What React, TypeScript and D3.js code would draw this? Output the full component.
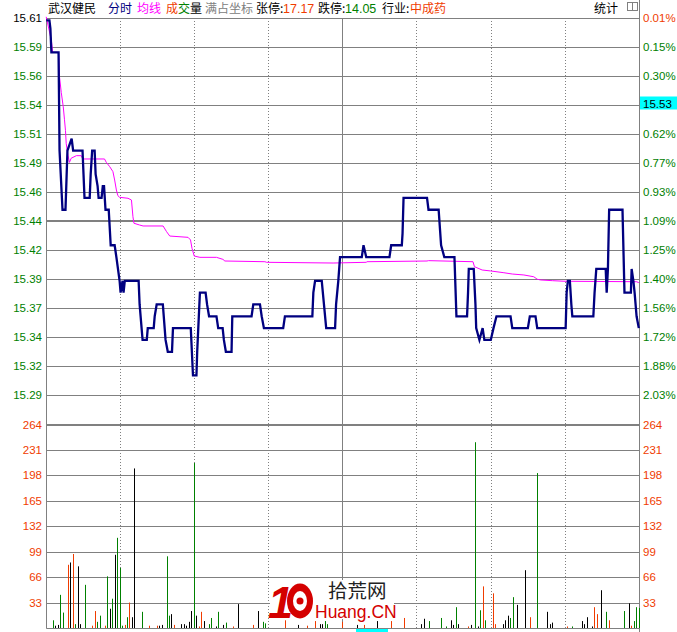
import React from "react";
import * as d3 from "d3";

// ---------- data ----------
// price line: [minute since 9:30, price]
const pricePoints: [number, number][] = [
  [0, 15.61], [1.3, 15.61], [1.7, 15.603], [2.1, 15.583], [5.0, 15.583], [5.4, 15.5],
  [6.6, 15.45], [7.8, 15.45], [8.6, 15.5], [10.3, 15.51], [10.9, 15.5], [14.7, 15.5],
  [15.1, 15.48], [15.5, 15.46], [17.6, 15.46], [18.0, 15.48], [18.6, 15.5], [19.6, 15.5],
  [20.0, 15.48], [20.8, 15.47], [21.2, 15.46], [22.4, 15.46], [22.9, 15.47], [23.4, 15.47],
  [24.0, 15.45], [25.3, 15.45], [26.1, 15.42], [27.7, 15.42], [28.4, 15.41], [29.7, 15.39],
  [30.1, 15.38], [30.9, 15.39], [31.3, 15.38], [31.8, 15.39], [37.4, 15.39], [37.8, 15.37],
  [39.0, 15.34], [40.7, 15.34], [41.1, 15.35], [43.5, 15.35], [43.9, 15.36], [44.7, 15.37],
  [47.2, 15.37], [48.3, 15.34], [49.2, 15.33], [50.9, 15.33], [51.3, 15.35], [58.5, 15.35],
  [59.4, 15.31], [60.8, 15.31], [61.1, 15.33], [62.2, 15.38], [64.5, 15.38], [65.1, 15.37],
  [65.9, 15.36], [68.9, 15.36], [69.6, 15.35], [71.4, 15.35], [71.9, 15.34], [72.7, 15.33],
  [75.0, 15.33], [75.3, 15.36], [83.1, 15.36], [83.8, 15.37], [86.5, 15.37], [87.2, 15.36],
  [88.1, 15.35], [95.9, 15.35], [96.6, 15.36], [107.7, 15.36], [108.1, 15.38], [108.8, 15.39],
  [111.5, 15.39], [113.3, 15.35], [116.9, 15.35], [117.3, 15.37], [118.2, 15.39], [118.9, 15.41],
  [127.7, 15.41], [128.4, 15.42], [129.5, 15.41], [138.9, 15.41], [139.6, 15.42], [143.9, 15.42],
  [144.2, 15.43], [144.6, 15.46], [154.1, 15.46], [154.7, 15.45], [158.8, 15.45], [159.8, 15.42],
  [161.1, 15.41], [165.2, 15.41], [166.0, 15.36], [170.3, 15.36], [170.7, 15.38], [171.0, 15.4],
  [173.0, 15.4], [173.7, 15.37], [174.0, 15.35], [175.3, 15.34], [176.6, 15.35], [177.3, 15.34],
  [179.9, 15.34], [181.0, 15.35], [182.2, 15.36], [187.9, 15.36], [188.6, 15.35], [194.9, 15.35],
  [195.7, 15.36], [198.0, 15.36], [198.7, 15.35], [210.2, 15.35], [210.6, 15.38], [211.1, 15.39],
  [211.9, 15.39], [212.5, 15.37], [212.9, 15.36], [221.4, 15.36], [221.9, 15.38], [222.6, 15.4],
  [226.4, 15.4], [226.8, 15.38], [227.3, 15.4], [227.8, 15.45], [233.2, 15.45], [234.0, 15.38],
  [236.6, 15.38], [236.9, 15.4], [237.6, 15.39], [238.1, 15.38], [238.9, 15.36], [239.8, 15.35],
];

// average price line: [minute, price]
const avgPoints: [number, number][] = [
  [0, 15.613], [2.1, 15.593], [2.6, 15.583], [5.0, 15.583], [5.4, 15.562], [6.1, 15.549],
  [6.9, 15.537], [7.4, 15.526], [7.8, 15.517], [8.1, 15.506], [8.8, 15.496], [9.4, 15.49],
  [10.1, 15.4935], [12.2, 15.4957], [14.2, 15.4957], [14.8, 15.4929], [23.6, 15.4929],
  [24.3, 15.4901], [25.7, 15.4864], [27.0, 15.4822], [27.7, 15.4751], [28.4, 15.4667],
  [29.0, 15.4619], [29.7, 15.4605], [33.1, 15.4597], [34.5, 15.4582], [35.1, 15.4441],
  [35.5, 15.4386], [37.8, 15.4371], [39.2, 15.4363], [47.3, 15.4363], [48.7, 15.4315],
  [50.0, 15.4278], [57.4, 15.4267], [58.4, 15.4245], [59.0, 15.4174], [59.9, 15.4109],
  [62.2, 15.4098], [68.9, 15.4098], [71.5, 15.4081], [72.3, 15.4067], [88.5, 15.4061],
  [89.2, 15.4056], [116.1, 15.405], [129.5, 15.4056], [129.8, 15.4061], [154.1, 15.4067],
  [154.7, 15.407], [172.7, 15.4061], [173.3, 15.4019], [176.4, 15.3991], [179.8, 15.3983],
  [185.2, 15.3968], [188.6, 15.3957], [193.3, 15.3949], [197.3, 15.3934], [198.7, 15.3913],
  [200.0, 15.3907], [204.8, 15.3901], [209.5, 15.3896], [238.9, 15.3892], [239.8, 15.3884],
];

// volume bars: [minute index, volume, direction (1 up/red, -1 down/green, 0 flat/black)]
const volumeBars: [number, number, number][] = [
  [2, 10, -1], [3, 3, 0], [4, 4, 0], [5, 43, -1], [6, 20, -1], [8, 82, 1], [9, 85, 0],
  [10, 96, 1], [11, 5, -1], [12, 80, 0], [13, 5, 0], [15, 56, -1], [18, 3, 1], [19, 22, 1],
  [20, 8, -1], [21, 16, -1], [23, 3, 1], [24, 67, -1], [25, 25, 0], [26, 38, -1], [27, 95, 0],
  [28, 117, -1], [29, 78, -1], [30, 3, -1], [31, 4, 1], [32, 14, -1], [33, 33, 1], [34, 14, 0],
  [35, 207, 0], [38, 21, -1], [41, 3, 1], [44, 3, 1], [45, 3, 0], [46, 4, 0], [48, 93, -1],
  [49, 16, -1], [50, 18, 0], [51, 4, 1], [54, 5, 0], [55, 5, 0], [56, 3, 0], [57, 8, 0],
  [58, 22, 0], [59, 214, -1], [60, 16, 0], [61, 2, 1], [62, 21, 1], [63, 9, 0], [65, 5, -1],
  [66, 13, -1], [68, 2, 0], [69, 21, -1], [71, 4, 0], [72, 7, -1], [75, 2, 1], [77, 31, 0],
  [83, 4, 1], [85, 22, 0], [87, 8, -1], [88, 6, -1], [96, 10, 1], [101, 4, 0], [105, 3, 1],
  [108, 9, 1], [110, 5, 0], [111, 5, 0], [112, 9, -1], [113, 5, -1], [119, 8, 1], [125, 4, 0],
  [128, 4, 1], [133, 9, 0], [139, 9, 1], [144, 13, 1], [151, 5, 0], [152, 12, 0], [154, 9, -1],
  [159, 13, -1], [161, 2, -1], [163, 10, 0], [164, 4, 0], [165, 27, -1], [166, 5, 0],
  [170, 2, 1], [171, 4, 0], [173, 241, -1], [174, 2, 0], [175, 23, -1], [176, 54, 1],
  [177, 10, -1], [180, 45, 1], [181, 5, 1], [184, 5, 0], [185, 10, 0], [186, 16, 0],
  [187, 13, -1], [188, 40, -1], [190, 30, 0], [193, 75, 0], [195, 14, 1], [198, 201, -1],
  [202, 21, 0], [203, 5, 0], [204, 7, 0], [210, 2, 1], [212, 2, -1], [216, 9, 0], [217, 5, 0],
  [218, 14, 0], [220, 2, 0], [221, 27, 1], [222, 18, 1], [224, 49, 0], [226, 21, -1],
  [227, 10, 1], [233, 22, -1], [235, 32, 0], [236, 3, 1], [237, 9, -1], [238, 27, -1],
  [239, 26, -1],
];

const priceLabels = ["15.61", "15.59", "15.56", "15.54", "15.51", "15.49", "15.46", "15.44", "15.42", "15.39", "15.37", "15.34", "15.32", "15.29"];
// the 4th percent label is covered by the current-price tag in the picture
const pctLabels = ["0.01%", "0.15%", "0.30%", null, "0.62%", "0.77%", "0.93%", "1.09%", "1.25%", "1.40%", "1.56%", "1.72%", "1.88%", "2.03%"];
const volLabels = [264, 231, 198, 165, 132, 99, 66, 33];
const timeTicks = [0, 30, 60, 90, 120, 150, 180, 210, 240];
const PRICE_TOP = 15.612;
const PRICE_STEP = 0.0245;
const VOL_MAX = 264;
const CURRENT_PRICE = "15.53";

// ---------- styling ----------
const RED = "#f03c00";
const GREEN = "#008000";
const NAVY = "#000080";
const MAGENTA = "#ff00ff";
const GRID = "#808080";
const FONT = "'Liberation Sans', Arial, 'Noto Sans CJK SC', sans-serif";
const CJK = "'Noto Sans CJK SC', 'Liberation Sans', sans-serif";

const W = 677;
const H = 632;
const LEFT = 46.2;
const RIGHT = 639.3;
const TOP = 18;
const PRICE_BOTTOM = 395;
const VOL_TOP = 424.5;
const VOL_BOTTOM = 628;

export default function App() {
  const x = d3.scaleLinear().domain([0, 240]).range([LEFT, RIGHT]);
  const yPrice = d3
    .scaleLinear()
    .domain([PRICE_TOP, PRICE_TOP - 13 * PRICE_STEP])
    .range([TOP, PRICE_BOTTOM]);
  const yVol = d3.scaleLinear().domain([0, VOL_MAX]).range([VOL_BOTTOM, VOL_TOP]);

  const line = d3
    .line<[number, number]>()
    .x((d) => x(d[0]))
    .y((d) => yPrice(d[1]));

  const crisp = (v: number) => Math.round(v) + 0.5;
  const gridYs = priceLabels.map((_, i) => yPrice(PRICE_TOP - i * PRICE_STEP));
  const barColor = (d: number) => (d > 0 ? RED : d < 0 ? GREEN : "#000");

  return (
    <svg
      width={W}
      height={H}
      style={{ position: "absolute", left: 0, top: 0, background: "#fff", display: "block" }}
    >
      <rect x={0} y={0} width={W} height={H} fill="#fff" />

      {/* header */}
      <g fontFamily={CJK} fontSize={12}>
        <text x={48} y={13} fill="#000">武汉健民</text>
        <text x={108} y={13} fill={NAVY}>分时</text>
        <text x={137} y={13} fill={MAGENTA}>均线</text>
        <text x={166} y={13} fill={RED}>成</text>
        <text x={178} y={13} fill={GREEN}>交</text>
        <text x={190} y={13} fill="#000">量</text>
        <text x={205} y={13} fill={GRID}>满占坐标</text>
        <text x={256} y={13} fill="#000">张停:</text>
        <text x={283} y={13} fill={RED} fontFamily={FONT} fontSize={12.5}>17.17</text>
        <text x={318} y={13} fill="#000">跌停:</text>
        <text x={345} y={13} fill={GREEN} fontFamily={FONT} fontSize={12.5}>14.05</text>
        <text x={382} y={13} fill="#000">行业:</text>
        <text x={410} y={13} fill={RED}>中成药</text>
        <text x={594} y={13} fill="#000">统计</text>
      </g>
      <rect x={627.5} y={2.5} width={10} height={8} fill="none" stroke={GRID} />
      <line x1={632.5} x2={632.5} y1={2.5} y2={10.5} stroke={GRID} />

      {/* horizontal price grid */}
      {gridYs.map((gy, i) => (
        <line
          key={"hg" + i}
          x1={LEFT}
          x2={RIGHT}
          y1={i === 7 ? Math.round(gy) : crisp(gy)}
          y2={i === 7 ? Math.round(gy) : crisp(gy)}
          stroke={GRID}
          strokeWidth={i === 7 ? 2 : 1}
        />
      ))}

      {/* horizontal volume grid */}
      {volLabels.map((v, i) => (
        <line
          key={"vg" + v}
          x1={LEFT}
          x2={RIGHT}
          y1={i === 0 ? Math.round(yVol(v)) : crisp(yVol(v))}
          y2={i === 0 ? Math.round(yVol(v)) : crisp(yVol(v))}
          stroke={GRID}
          strokeWidth={i === 0 ? 2 : 1}
        />
      ))}
      <line x1={LEFT} x2={RIGHT} y1={VOL_BOTTOM + 0.5} y2={VOL_BOTTOM + 0.5} stroke={GRID} />

      {/* vertical time grid */}
      {timeTicks.map((t) => {
        const solid = t === 0 || t === 120 || t === 240;
        const vx = Math.floor(x(t)) + 0.5;
        return (
          <line
            key={"vt" + t}
            x1={vx}
            x2={vx}
            y1={t === 240 ? 0 : TOP}
            y2={t === 240 ? H : VOL_BOTTOM}
            stroke={GRID}
            strokeDasharray={solid ? undefined : "1,2"}
          />
        );
      })}

      {/* volume bars */}
      {volumeBars.map(([m, v, d], i) => {
        const bx = Math.round(x(m + 0.7)) + 0.5;
        return (
          <line
            key={"vb" + i}
            x1={bx}
            x2={bx}
            y1={VOL_BOTTOM}
            y2={yVol(v)}
            stroke={barColor(d)}
            strokeWidth={1}
          />
        );
      })}

      {/* average line */}
      <path d={line(avgPoints) || ""} fill="none" stroke={MAGENTA} strokeWidth={1} />
      {/* price line */}
      <path
        d={line(pricePoints) || ""}
        fill="none"
        stroke={NAVY}
        strokeWidth={2.3}
        strokeLinejoin="miter"
      />

      {/* axis labels */}
      <g fontFamily={FONT} fontSize={11.5}>
        {priceLabels.map((l, i) => (
          <text key={"pl" + i} x={42} y={gridYs[i] + 4} textAnchor="end" fill={i === 0 ? "#000" : GREEN}>
            {l}
          </text>
        ))}
        {pctLabels.map((l, i) =>
          l ? (
            <text key={"pc" + i} x={643} y={gridYs[i] + 4} fill={i === 0 ? RED : GREEN}>
              {l}
            </text>
          ) : null
        )}
        {volLabels.map((v) => (
          <text key={"vl" + v} x={42} y={yVol(v) + 4} textAnchor="end" fill={RED}>
            {v}
          </text>
        ))}
        {volLabels.map((v) => (
          <text key={"vr" + v} x={643} y={yVol(v) + 4} fill={RED}>
            {v}
          </text>
        ))}
        {/* current price tag */}
        <rect x={640} y={96.5} width={37} height={13} fill="#00ffff" />
        <text x={643} y={107.5} fill="#000">{CURRENT_PRICE}</text>
      </g>

      {/* watermark */}
      <g>
        <rect x={270} y={580} width={124} height={39} fill="#fff" />
        <text
          x={268}
          y={618}
          fontFamily={FONT}
          fontWeight="bold"
          fontStyle="italic"
          fontSize={45}
          fill="#d40000"
        >
          1
        </text>
        <ellipse cx={300} cy={601} rx={13} ry={17.5} fill="#d40000" />
        <ellipse cx={300} cy={601} rx={7} ry={10} fill="#fff" />
        <circle cx={300} cy={601} r={3.5} fill="#d40000" />
        <text x={328} y={598} fontFamily={CJK} fontSize={19.5} fill="#222">拾荒网</text>
        <text x={315} y={618} fontFamily={FONT} fontSize={17.5} fill="#d40000">Huang.CN</text>
      </g>

      {/* bottom tag */}
      <rect x={356} y={629} width={32} height={3} fill="#00ffff" />
    </svg>
  );
}
